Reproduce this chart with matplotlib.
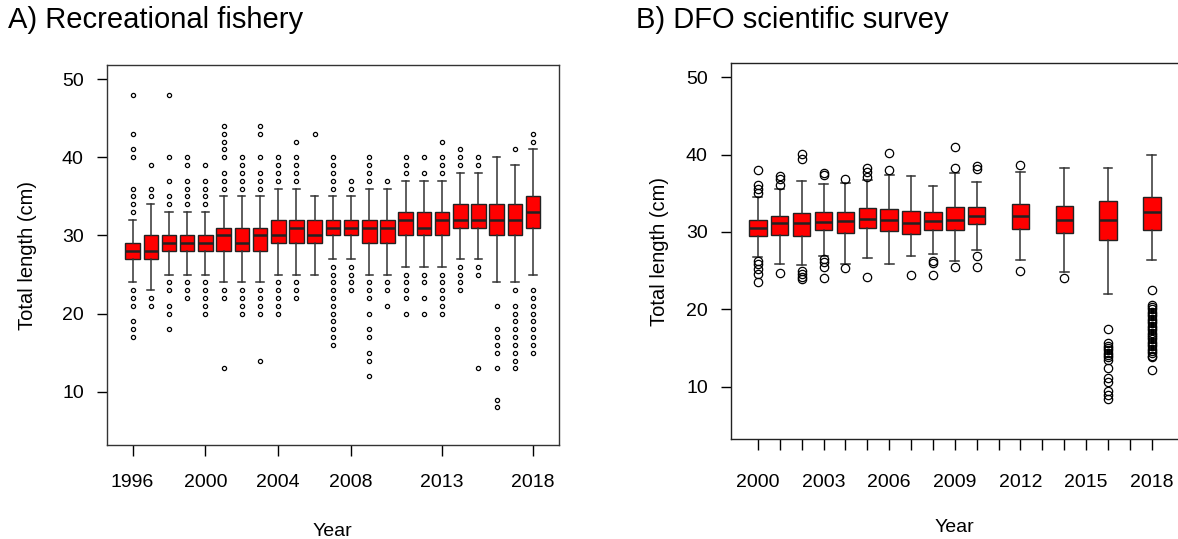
import matplotlib
matplotlib.use("Agg")
import matplotlib.pyplot as plt

plt.rcParams['font.family'] = ['Liberation Sans', 'DejaVu Sans']

# A) recreational fishery, 1996-2018 (integer lengths, cm)
rec_years = list(range(1996, 2019))
rec_q1 = [27, 27, 28, 28, 28, 28, 28, 28, 29, 29, 29, 30, 30, 29, 29, 30, 30, 30, 31, 31, 30, 30, 31]
rec_med = [28, 28, 29, 29, 29, 30, 29, 30, 30, 31, 30, 31, 31, 31, 31, 32, 31, 32, 32, 32, 32, 32, 33]
rec_q3 = [29, 30, 30, 30, 30, 31, 31, 31, 32, 32, 32, 32, 32, 32, 32, 33, 33, 33, 34, 34, 34, 34, 35]
rec_lo = [24, 23, 25, 25, 25, 24, 24, 24, 25, 25, 25, 27, 27, 25, 25, 26, 26, 26, 27, 27, 24, 24, 25]
rec_hi = [32, 34, 33, 33, 33, 35, 35, 35, 36, 36, 35, 35, 35, 36, 36, 37, 37, 37, 38, 38, 40, 39, 41]
rec_fliers = [
    [33, 34, 35, 36, 40, 41, 43, 48, 23, 22, 21, 19, 18, 17],
    [35, 36, 39, 22, 21],
    [34, 35, 37, 40, 48, 24, 23, 21, 20, 18],
    [34, 35, 36, 37, 39, 40, 24, 23, 22],
    [34, 35, 36, 37, 39, 24, 23, 22, 21, 20],
    [36, 37, 38, 40, 41, 42, 43, 44, 23, 22, 13],
    [36, 37, 38, 39, 40, 23, 22, 21, 20],
    [36, 37, 38, 40, 43, 44, 23, 22, 21, 20, 14],
    [37, 38, 39, 40, 24, 23, 22, 21, 20],
    [37, 38, 39, 40, 42, 24, 23, 22],
    [43],
    [36, 37, 38, 39, 40, 26, 25, 24, 23, 22, 21, 20, 19, 18, 17, 16],
    [36, 37, 26, 25, 24, 23],
    [37, 38, 39, 40, 24, 23, 22, 20, 18, 17, 15, 14, 12],
    [37, 24, 23, 21],
    [38, 39, 40, 25, 24, 23, 22, 20],
    [38, 40, 25, 24, 22, 20],
    [38, 39, 40, 42, 25, 24, 23, 22, 21, 20],
    [39, 40, 41, 26, 25, 24, 23],
    [39, 40, 26, 25, 13],
    [21, 18, 17, 16, 15, 13, 9, 8],
    [41, 23, 21, 20, 19, 18, 17, 16, 15, 14, 13],
    [42, 43, 23, 22, 21, 20, 19, 18, 17, 16, 15],
]
rec_tick_years = [1996, 2000, 2004, 2008, 2013, 2018]

# B) DFO scientific survey
svy_years = [2000, 2001, 2002, 2003, 2004, 2005, 2006, 2007, 2008, 2009, 2010, 2012, 2014, 2016, 2018]
svy_q1 = [29.5, 29.6, 29.5, 30.3, 29.8, 30.5, 30.1, 29.7, 30.2, 30.2, 31.0, 30.4, 29.9, 29.0, 30.2]
svy_med = [30.5, 31.1, 31.1, 31.3, 31.4, 31.7, 31.6, 31.1, 31.4, 31.6, 32.1, 32.0, 31.6, 31.6, 32.6]
svy_q3 = [31.5, 32.1, 32.4, 32.6, 32.6, 33.1, 33.0, 32.7, 32.6, 33.2, 33.2, 33.6, 33.4, 34.0, 34.5]
svy_lo = [26.8, 25.9, 25.7, 26.9, 25.8, 26.6, 25.9, 26.9, 27.2, 26.2, 27.7, 26.4, 24.8, 22.0, 26.4]
svy_hi = [34.5, 35.5, 36.6, 36.2, 36.3, 36.7, 37.3, 37.2, 36.0, 37.6, 36.4, 37.7, 38.3, 38.2, 39.9]
svy_fliers = [
    [38.0, 36.1, 35.6, 35.0, 26.2, 25.8, 25.2, 24.6, 23.5],
    [37.2, 36.9, 36.1, 24.7],
    [40.1, 39.4, 24.9, 24.5, 24.2, 23.9],
    [37.6, 37.3, 26.5, 26.1, 25.5, 24.1],
    [36.9, 25.3],
    [38.3, 37.8, 37.1, 24.2],
    [40.2, 38.0],
    [24.4],
    [26.2, 26.0, 24.4],
    [41.0, 38.3, 25.5],
    [38.5, 38.1, 26.9, 25.5],
    [38.7, 25.0],
    [24.0],
    [17.5, 15.7, 15.3, 15.0, 14.7, 14.4, 14.1, 13.8, 13.5, 12.4, 11.1, 10.6, 9.4, 8.9, 8.4],
    [22.5, 20.6, 20.3, 20.0, 19.7, 19.4, 19.1, 18.8, 18.5, 18.2, 17.9, 17.6, 17.3,
     17.0, 16.7, 16.4, 16.1, 15.8, 15.5, 15.2, 14.9, 14.6, 14.3, 14.0, 13.8, 12.1],
]
svy_tick_years = list(range(2000, 2019))
svy_tick_labels = [str(y) if (y - 2000) % 3 == 0 else "" for y in svy_tick_years]


def make_stats(q1, med, q3, lo, hi, fliers):
    return [dict(q1=a, med=b, q3=c, whislo=d, whishi=e, fliers=f)
            for a, b, c, d, e, f in zip(q1, med, q3, lo, hi, fliers)]


def draw_boxes(ax, stats, pos, flier_size, flier_lw):
    ax.bxp(stats, positions=pos, widths=0.8, patch_artist=True, showfliers=True,
           boxprops=dict(facecolor='red', edgecolor='#222222', linewidth=1.0),
           medianprops=dict(color='#222222', linewidth=1.8),
           whiskerprops=dict(color='#333333', linewidth=1.1),
           capprops=dict(color='#333333', linewidth=1.1),
           capwidths=0.4,
           flierprops=dict(marker='o', markerfacecolor='none', markeredgecolor='black',
                           markersize=flier_size, markeredgewidth=flier_lw, linestyle='none'))


fig = plt.figure(figsize=(11.78, 5.39), dpi=100)

# left panel
ax1 = fig.add_axes([0.0906, 0.1744, 0.3839, 0.705])
draw_boxes(ax1, make_stats(rec_q1, rec_med, rec_q3, rec_lo, rec_hi, rec_fliers),
           rec_years, 3.0, 0.9)
ax1.set_xlim(1996 - 1.42, 2018 + 1.42)
ax1.set_ylim(3.2, 51.8)
ax1.set_xticks(rec_tick_years)
ax1.set_xticklabels([str(y) for y in rec_tick_years])
ax1.set_yticks([10, 20, 30, 40, 50])
ax1.tick_params(axis='x', length=8, width=1, pad=13, labelsize=14)
ax1.tick_params(axis='y', length=7.5, width=1, pad=9, labelsize=14)
for s in ax1.spines.values():
    s.set_linewidth(1.0)
    s.set_color('#333333')
ax1.set_xlabel("Year", fontsize=14, labelpad=23)
ax1.set_ylabel("Total length (cm)", fontsize=14.5, labelpad=18)

# right panel (runs off the right edge)
ax2 = fig.add_axes([0.6203, 0.185, 0.3805, 0.6976])
draw_boxes(ax2, make_stats(svy_q1, svy_med, svy_q3, svy_lo, svy_hi, svy_fliers),
           svy_years, 6.0, 0.9)
ax2.set_xlim(2000 - 1.24, 2018 + 1.24)
ax2.set_ylim(3.2, 51.8)
ax2.set_xticks(svy_tick_years)
ax2.set_xticklabels(svy_tick_labels)
ax2.set_yticks([10, 20, 30, 40, 50])
ax2.tick_params(axis='x', length=8, width=1, pad=17, labelsize=14)
ax2.tick_params(axis='y', length=7.5, width=1, pad=9, labelsize=14)
for s in ax2.spines.values():
    s.set_linewidth(1.0)
    s.set_color('#222222')
ax2.set_xlabel("Year", fontsize=14, labelpad=20)
ax2.set_ylabel("Total length (cm)", fontsize=14.5, labelpad=12)

fig.text(0.007, 0.962, "A) Recreational fishery", fontsize=21, ha='left', va='center')
fig.text(0.540, 0.962, "B) DFO scientific survey", fontsize=21, ha='left', va='center')

fig.savefig("out.png", dpi=100)
